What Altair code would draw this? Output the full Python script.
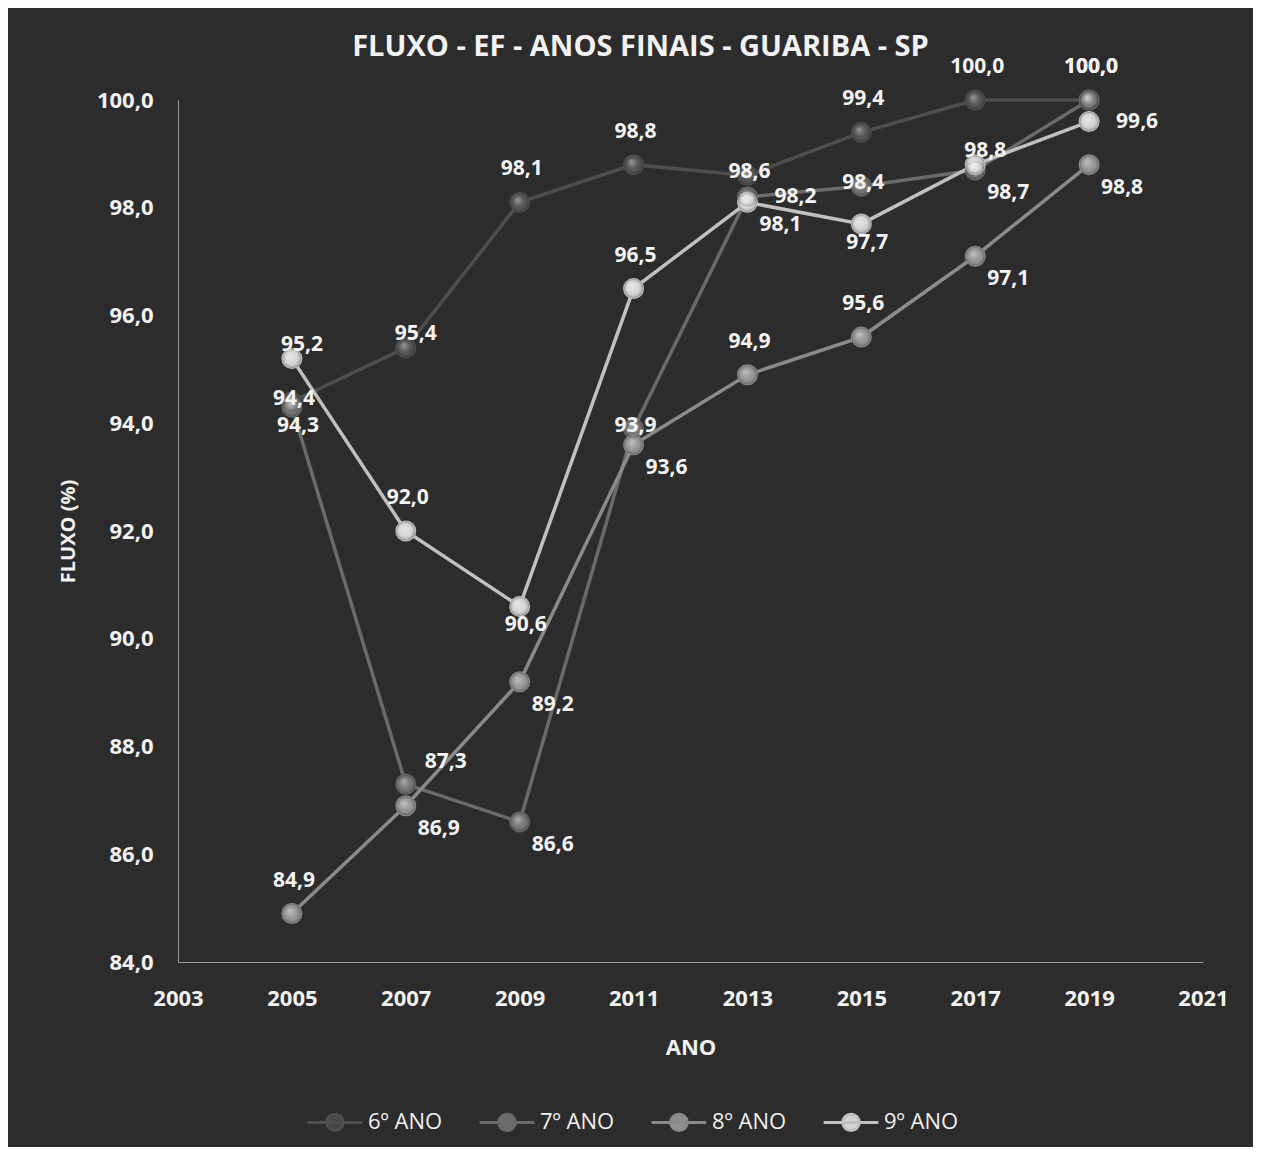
import altair as alt
import pandas as pd

anos = [2005, 2007, 2009, 2011, 2013, 2015, 2017, 2019]
series = ["6º ANO", "7º ANO", "8º ANO", "9º ANO"]
ano6 = [94.4, 95.4, 98.1, 98.8, 98.6, 99.4, 100.0, 100.0]
ano7 = [94.3, 87.3, 86.6, 93.9, 98.2, 98.4, 98.7, 100.0]
ano8 = [84.9, 86.9, 89.2, 93.6, 94.9, 95.6, 97.1, 98.8]
ano9 = [95.2, 92.0, 90.6, 96.5, 98.1, 97.7, 98.8, 99.6]

# label placement category per point (style only)
pos6 = ["centro", "perto", "acima", "acima", "centro", "acima", "acima", "acima"]
pos7 = ["abaixo", "acima_dir", "abaixo_dir", "centro", "direita", "centro", "abaixo_dir", "acima"]
pos8 = ["acima", "abaixo_dir", "abaixo_dir", "abaixo_dir", "acima", "acima", "abaixo_dir", "abaixo_dir"]
pos9 = ["perto", "acima", "abaixo", "acima", "abaixo_dir", "abaixo", "perto", "direita"]

line_colors = ["#4e4e4e", "#6a6a6a", "#8a8a8a", "#c0c0c0"]
dot_colors = ["#474747", "#6c6c6c", "#8f8f8f", "#d4d4d4"]

rows = []
for s, vals, pos in zip(series, [ano6, ano7, ano8, ano9], [pos6, pos7, pos8, pos9]):
    for a, v, p in zip(anos, vals, pos):
        rows.append({"ano": a, "fluxo": v, "serie": s, "pos": p})
df = pd.DataFrame(rows)

FONT = "Open Sans"
TXT = "#f2f2f2"
x = alt.X("ano:Q", scale=alt.Scale(domain=[2003, 2021], nice=False, zero=False),
          axis=alt.Axis(title="ANO", values=list(range(2003, 2022, 2)), format="d",
                        labelFontSize=22, labelFontWeight="bold", labelColor=TXT,
                        labelPadding=26, labelFlush=False, labelOverlap=False,
                        ticks=False, grid=False, domainColor="#9a9a9a",
                        domainWidth=1, titleFontSize=22, titleFontWeight="bold",
                        titleColor=TXT, titlePadding=28, labelFont=FONT, titleFont=FONT))
y = alt.Y("fluxo:Q", scale=alt.Scale(domain=[84, 100], nice=False, zero=False),
          axis=alt.Axis(title="FLUXO (%)", values=list(range(84, 101, 2)),
                        labelExpr="replace(format(datum.value, '.1f'), '.', ',')",
                        labelFontSize=22, labelFontWeight="bold", labelColor=TXT,
                        labelPadding=25, labelFlush=False, labelOverlap=False,
                        ticks=False, grid=False, domainColor="#9a9a9a",
                        domainWidth=1, titleFontSize=20, titleFontWeight="bold",
                        titleColor=TXT, titlePadding=18, labelFont=FONT, titleFont=FONT))

legend = alt.Legend(title=None, orient="none", legendX=128, legendY=993, direction="horizontal",
                    columns=4, columnPadding=30,
                    symbolType="M-1,0H1M-0.3,0A0.3,0.3,0,1,1,0.3,0A0.3,0.3,0,1,1,-0.3,0Z",
                    symbolSize=3000, symbolStrokeWidth=3, labelFontSize=22, labelColor=TXT,
                    labelFont=FONT, labelOffset=4)

stroke_scale = alt.Scale(domain=series, range=line_colors)
fill_scale = alt.Scale(domain=series, range=dot_colors)

base = alt.Chart(df)

lines = base.mark_line(strokeWidth=3.5).encode(
    x=x, y=y,
    stroke=alt.Stroke("serie:N", scale=stroke_scale, legend=legend),
)

dots = base.mark_point(filled=True, size=360, opacity=1, strokeWidth=2).encode(
    x=x, y=y,
    fill=alt.Fill("serie:N", scale=fill_scale, legend=legend),
    stroke=alt.Stroke("serie:N", scale=stroke_scale, legend=legend),
)

shine = base.mark_point(
    filled=True, size=360, opacity=1, strokeWidth=0,
    color=alt.Gradient(
        gradient="radial", x1=0.38, y1=0.35, r1=0.0, x2=0.5, y2=0.5, r2=0.5,
        stops=[alt.GradientStop(offset=0, color="rgba(255,255,255,0.45)"),
               alt.GradientStop(offset=0.6, color="rgba(255,255,255,0.08)"),
               alt.GradientStop(offset=1, color="rgba(0,0,0,0.25)")],
    ),
).encode(x=x, y=y)

offsets = {
    "centro": (2, -3),
    "perto": (10, -14),
    "acima": (2, -33),
    "abaixo": (6, 19),
    "abaixo_dir": (33, 23),
    "acima_dir": (40, -22),
    "direita": (48, 0),
}

texts = []
for p, (dx, dy) in offsets.items():
    texts.append(
        base.transform_filter(alt.datum.pos == p)
        .transform_calculate(rot="replace(format(datum.fluxo, '.1f'), '.', ',')")
        .mark_text(dx=dx, dy=dy, fontSize=21, fontWeight="bold", color="#f4f4f4",
                   font=FONT, align="center", baseline="middle")
        .encode(x=x, y=y, text="rot:N")
    )

chart = alt.layer(lines, dots, shine, *texts).properties(
    width=1025,
    height=862,
    title=alt.TitleParams("FLUXO - EF - ANOS FINAIS - GUARIBA - SP", fontSize=29,
                          fontWeight="bold", color=TXT, font=FONT, offset=-6,
                          anchor="middle", dx=-50),
    autosize=alt.AutoSizeParams(type="none"),
    padding={"left": 170, "top": 92, "right": 50, "bottom": 185},
    background="#2c2c2c",
).configure_view(stroke=None)

chart.save("out.html", embed_options={"renderer": "svg", "actions": False})
